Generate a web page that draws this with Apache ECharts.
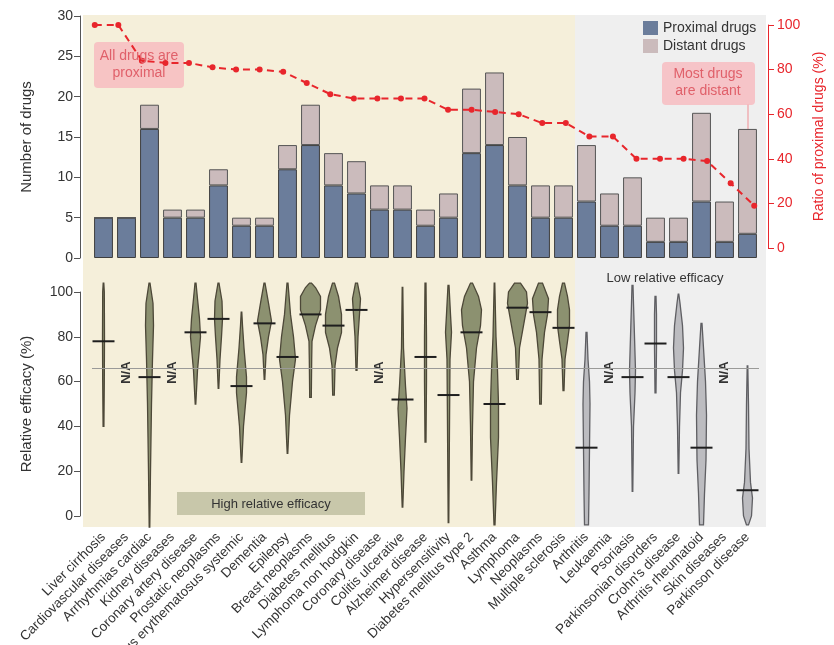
<!DOCTYPE html>
<html><head><meta charset="utf-8">
<script src="https://cdn.jsdelivr.net/npm/echarts@6/dist/echarts.min.js"></script>
<style>html,body{margin:0;padding:0;background:#fff}#c{width:834px;height:645px}</style>
</head><body><div id="c"></div>
<script>
// ---------------- data ----------------
const categories = ['Liver cirrhosis','Cardiovascular diseases','Arrhythmias cardiac','Kidney diseases','Coronary artery disease','Prostatic neoplasms','Lupus erythematosus systemic','Dementia','Epilepsy','Breast neoplasms','Diabetes mellitus','Lymphoma non hodgkin','Coronary disease','Colitis ulcerative','Alzheimer disease','Hypersensitivity','Diabetes mellitus type 2','Asthma','Lymphoma','Neoplasms','Multiple sclerosis','Arthritis','Leukaemia','Psoriasis','Parkinsonian disorders',"Crohn's disease",'Arthritis rheumatoid','Skin diseases','Parkinson disease'];
const proximalDrugs = [5,5,16,5,5,9,4,4,11,14,9,8,6,6,4,5,13,14,9,5,5,7,4,4,2,2,7,2,3];
const distantDrugs  = [0,0,3,1,1,2,1,1,3,5,4,4,3,3,2,3,8,9,6,4,4,7,4,6,3,3,11,5,13];
const proximalRatio = [100,100,84,83,83,81,80,80,79,74,69,67,67,67,67,62,62,61,60,56,56,50,50,40,40,40,39,29,19];
const efficacyMedian = [78,null,62,null,82,88,58,86,71,90,85,92,null,52,71,54,82,50,93,91,84,30.5,null,62,77,62,30.5,null,11.5];
// violin density profiles: [relative efficacy, density]; null = N/A
const efficacyDensity = [
  [[40,0.4],[60,0.8],[80,1],[100,0.8],[104,0.3]],
  null,
  [[-5,0.3],[20,1],[50,2],[70,3],[85,4],[95,3.5],[104,0.5]],
  null,
  [[50,0.3],[65,2],[80,5],[88,4],[97,2],[104,0.5]],
  [[57,0.3],[70,1.5],[80,3],[88,4],[96,3.5],[104,0.5]],
  [[24,0.3],[40,2],[55,5],[62,5],[75,2.5],[85,1],[91,0.3]],
  [[61,0.3],[72,1.5],[80,4],[87,7],[95,4],[104,0.5]],
  [[28,0.3],[45,2],[60,5],[70,8],[80,6],[90,3],[104,0.5]],
  [[53,0.8],[70,1.2],[78,1.5],[85,5],[92,10],[98,10],[102,5],[104,1]],
  [[54,0.8],[67,1.5],[75,4],[82,8],[90,8],[98,5],[104,1]],
  [[65,0.5],[80,1.5],[90,3],[97,4],[104,1]],
  null,
  [[4,0.3],[20,1.5],[35,3],[48,4.5],[58,3],[75,1],[102,0.3]],
  [[33,0.5],[60,1],[80,1],[104,0.5]],
  [[-3,0.3],[40,1],[70,1.5],[82,3],[90,2],[103,0.5]],
  [[16,0.3],[40,1],[60,2],[75,5],[85,9],[92,10],[98,7],[104,1]],
  [[-4,0.5],[15,2],[35,4],[50,4],[65,3],[80,1.5],[104,0.3]],
  [[61,0.8],[75,2],[85,6],[95,10],[100,9],[104,3]],
  [[50,0.8],[70,1.5],[82,4],[90,7],[97,8],[104,2]],
  [[56,0.5],[70,1.5],[78,4],[85,6],[92,6],[98,4],[104,1]],
  [[-4,2],[10,2.5],[30,3],[50,3.5],[60,3],[70,1.5],[82,0.5]],
  null,
  [[11,0.3],[40,1],[55,2.5],[65,3],[80,2],[95,1],[103,0.5]],
  [[55,0.5],[75,1],[90,1],[98,0.5]],
  [[19,0.3],[40,1],[55,2],[65,4],[75,5],[85,4],[95,1.5],[99,0.3]],
  [[-4,2],[10,3],[25,4.5],[45,5],[60,4],[75,2],[86,0.5]],
  null,
  [[-4,1],[0,4],[8,5],[15,3],[30,1.5],[50,1],[67,0.3]]
];
const highEfficacyCount = 21;
const efficacyThreshold = 66;
const countTicks = {min:0,max:30,interval:5};
const ratioTicks = {min:0,max:100,interval:20};
const efficacyTicks = {min:0,max:100,interval:20};

// ---------------- chart ----------------
const FONT = 'Liberation Sans, Arial, Helvetica, sans-serif';
const chart = echarts.init(document.getElementById('c'));
const axisGray = '#555';
const red = '#e8262c';

function violinItem(params, api) {
  const i = api.value(0);
  const prof = efficacyDensity[i];
  const cx = api.coord([i, 0])[0];
  const children = [];
  if (!prof) {
    const p = api.coord([i, 64]);
    children.push({type:'text', x:p[0], y:p[1], rotation:Math.PI/2,
      style:{text:'N/A', fill:'#333', font:'bold 13px ' + FONT, align:'center', verticalAlign:'middle'}});
    return {type:'group', children};
  }
  const high = i < highEfficacyCount;
  const left = [], right = [];
  prof.forEach(function(d){
    const y = api.coord([i, d[0]])[1];
    left.push([cx - d[1], y]);
    right.push([cx + d[1], y]);
  });
  children.push({type:'polygon', shape:{points:left.concat(right.reverse())},
    style:{fill: high ? '#8c9170' : '#bcbcc0', stroke: high ? '#4d4838' : '#5f5f63', lineWidth:1.3}});
  const m = api.coord([i, efficacyMedian[i]]);
  children.push({type:'line', shape:{x1:cx-11, y1:m[1], x2:cx+11, y2:m[1]},
    style:{stroke:'#1e1e1e', lineWidth:2}});
  return {type:'group', children};
}

const option = {
  animation:false,
  textStyle:{fontFamily:FONT},
  legend:{
    data:['Proximal drugs','Distant drugs'], orient:'vertical', left:638, top:16,
    itemWidth:15, itemHeight:14, itemGap:4, icon:'rect',
    itemStyle:{borderWidth:0},
    textStyle:{fontSize:14, color:'#333', fontFamily:FONT}
  },
  grid:[
    {left:92, width:667, top:16, height:242, outerBoundsMode:'none', containLabel:false},
    {left:83, width:683, top:25, height:223, outerBoundsMode:'none', containLabel:false},
    {left:92, width:667, top:292, height:224, outerBoundsMode:'none', containLabel:false}
  ],
  xAxis:[
    {type:'category', gridIndex:0, data:categories, axisLine:{show:false}, axisTick:{show:false}, axisLabel:{show:false}},
    {type:'category', gridIndex:1, data:categories, axisLine:{show:false}, axisTick:{show:false}, axisLabel:{show:false}},
    {type:'category', gridIndex:2, data:categories, axisLine:{show:false}, axisTick:{show:false},
      axisLabel:{interval:0, rotate:45, margin:19, fontSize:13.5, color:'#333', fontFamily:FONT, hideOverlap:false}}
  ],
  yAxis:[
    {type:'value', gridIndex:0, min:countTicks.min, max:countTicks.max, interval:countTicks.interval, offset:12,
      name:'Number of drugs', nameLocation:'middle', nameGap:46, nameRotate:90,
      nameTextStyle:{fontSize:15, color:'#333'},
      axisLine:{show:true, lineStyle:{color:axisGray}}, axisTick:{show:true, length:6, lineStyle:{color:axisGray}},
      axisLabel:{fontSize:14, color:'#333', margin:7}, splitLine:{show:false}},
    {type:'value', gridIndex:1, position:'right', min:ratioTicks.min, max:ratioTicks.max, interval:ratioTicks.interval, offset:2,
      name:'Ratio of proximal drugs (%)', nameLocation:'middle', nameGap:44, nameRotate:90,
      nameTextStyle:{fontSize:14, color:red, padding:[0,0,0,0]},
      axisLine:{show:true, lineStyle:{color:red}}, axisTick:{show:true, length:6, lineStyle:{color:red}},
      axisLabel:{fontSize:14, color:red, margin:9}, splitLine:{show:false}},
    {type:'value', gridIndex:2, min:efficacyTicks.min, max:efficacyTicks.max, interval:efficacyTicks.interval, offset:12,
      name:'Relative efficacy (%)', nameLocation:'middle', nameGap:46, nameRotate:90,
      nameTextStyle:{fontSize:15, color:'#333'},
      axisLine:{show:true, lineStyle:{color:axisGray}}, axisTick:{show:true, length:6, lineStyle:{color:axisGray}},
      axisLabel:{fontSize:14, color:'#333', margin:7}, splitLine:{show:false}}
  ],
  graphic:[
    {type:'rect', z:-10, shape:{x:83, y:15, width:492, height:512}, style:{fill:'#f5efda'}, silent:true},
    {type:'rect', z:-10, shape:{x:575, y:15, width:191, height:512}, style:{fill:'#efefef'}, silent:true},
    {type:'rect', z:1, shape:{x:94, y:42, width:90, height:46, r:4}, style:{fill:'rgba(248,185,190,0.8)'}},
    {type:'text', z:100, x:139, y:65, style:{text:'All drugs are\nproximal', fill:'#e0606a', font:'14px '+FONT, align:'center', verticalAlign:'middle', lineHeight:17}},
    {type:'line', z:1, shape:{x1:748, y1:104, x2:748, y2:202}, style:{stroke:'rgba(240,150,155,0.9)', lineWidth:1.2}},
    {type:'rect', z:1, shape:{x:662, y:62, width:93, height:43, r:4}, style:{fill:'rgba(248,185,190,0.8)'}},
    {type:'text', z:100, x:708, y:83, style:{text:'Most drugs\nare distant', fill:'#e0606a', font:'14px '+FONT, align:'center', verticalAlign:'middle', lineHeight:17}},
    {type:'rect', z:1, shape:{x:177, y:492, width:188, height:23}, style:{fill:'#c8c7aa'}},
    {type:'text', z:100, x:271, y:504, style:{text:'High relative efficacy', fill:'#333', font:'13px '+FONT, align:'center', verticalAlign:'middle'}},
    {type:'text', z:100, x:665, y:278, style:{text:'Low relative efficacy', fill:'#333', font:'13px '+FONT, align:'center', verticalAlign:'middle'}}
  ],
  series:[
    {name:'Proximal drugs', type:'bar', stack:'d', xAxisIndex:0, yAxisIndex:0, data:proximalDrugs, barWidth:'82%',
      itemStyle:{color:'#6b7d9b', borderColor:'#3e3e3e', borderWidth:1}},
    {name:'Distant drugs', type:'bar', stack:'d', xAxisIndex:0, yAxisIndex:0, data:distantDrugs, barWidth:'82%',
      itemStyle:{color:'#cbbbbc', borderColor:'#555', borderWidth:1}},
    {name:'Ratio', type:'line', xAxisIndex:1, yAxisIndex:1, data:proximalRatio, z:5,
      symbol:'circle', symbolSize:6, itemStyle:{color:red},
      lineStyle:{color:red, width:2, type:[7,5]}},
    {name:'Efficacy', type:'custom', xAxisIndex:2, yAxisIndex:2, clip:false, z:3,
      data:categories.map(function(c,i){return [i];}),
      encode:{x:0}, renderItem:violinItem,
      markLine:{silent:true, symbol:'none', label:{show:false},
        lineStyle:{color:'#9a9a98', type:'solid', width:1}, data:[{yAxis:efficacyThreshold}]}}
  ]
};
chart.setOption(option);
</script>
</body></html>
